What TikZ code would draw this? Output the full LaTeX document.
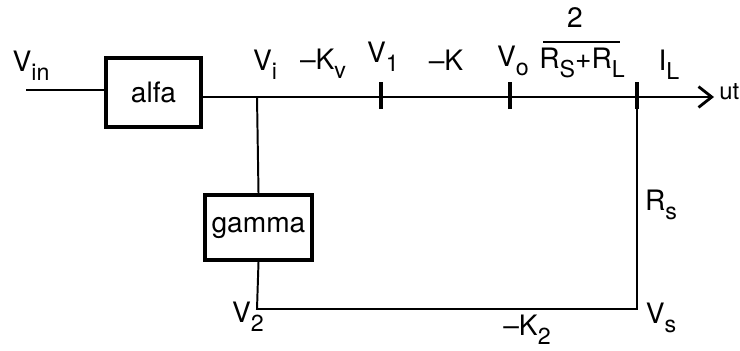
\documentclass[tikz,border=0pt]{standalone}
\usepackage{fontspec}
\setmainfont{TeX Gyre Heros}
\usetikzlibrary{arrows.meta}
\newcommand{\lsub}[1]{\raisebox{-0.6ex}{\fontsize{16.5}{17}\selectfont #1}}
\begin{document}
\begin{tikzpicture}[x=0.025cm, y=-0.025cm, >={Straight Barb[length=3.3mm,width=5.2mm,line width=2pt]},
        every node/.style={font=\fontsize{20}{22}\selectfont, inner sep=0pt},
        blk/.style={draw, line width=2.5pt, fill=white},
        wire/.style={line width=1.4pt},
        tickmark/.style={line width=2.2pt}]
        \useasboundingbox (0,0) rectangle (740,350);
        \node[blk, minimum width=2.375cm, minimum height=1.725cm] (alfa) at (153.5,92.5) {alfa\hspace{0.5cm}};
        \node[blk, minimum width=2.675cm, minimum height=1.625cm] (gamma) at (258.5,227.5) {gamma\hspace{0.1cm}};
        \coordinate (vin) at (26,90);
        \coordinate (vi) at (257,97);
        \coordinate (v1) at (381,97);
        \coordinate (vo) at (510,97);
        \coordinate (il) at (637,97);
        \coordinate (out) at (714,97);
        \coordinate (v2) at (257,309);
        \coordinate (vs) at (637,309);
        \draw[wire] (vin) -- (vin -| alfa.west);
        \draw[wire,->] (alfa.east |- vi) -- (out);
        \draw[wire] (vi) -- (gamma.north);
        \draw[wire] (gamma.south) -- (v2) -- (vs) -- (il);
        \foreach \t in {v1,vo,il}
            \draw[tickmark] ([yshift=-0.3cm]\t) -- ([yshift=0.38cm]\t);
        \node (lvin) at (31,66) {V\lsub{in}};
        \node (lvi) at (265,65) {V\lsub{i}};
        \node (lkv) at (323,64) {–K\lsub{v}};
        \node (lv1) at (383,57) {V\lsub{1}};
        \node (lk) at (446,60) {–K};
        \node (lvo) at (513,61) {V\lsub{o}};
        \node (frnum) at (575,18) {2};
        \draw[line width=2pt] (543,42) -- (620,42);
        \node (frden) at (582,63) {R\lsub{S}+R\lsub{L}};
        \node (lil) at (669,65) {I\lsub{L}};
        \node[anchor=east, font=\fontsize{17}{19}\selectfont] (lut) at (739.5,92) {ut};
        \node (lrs) at (661,205) {R\lsub{s}};
        \node (lv2) at (248,317) {V\lsub{2}};
        \node (lvs) at (661,318) {V\lsub{s}};
        \node (lk2) at (527,330) {–K\lsub{2}};
\end{tikzpicture}
\end{document}
